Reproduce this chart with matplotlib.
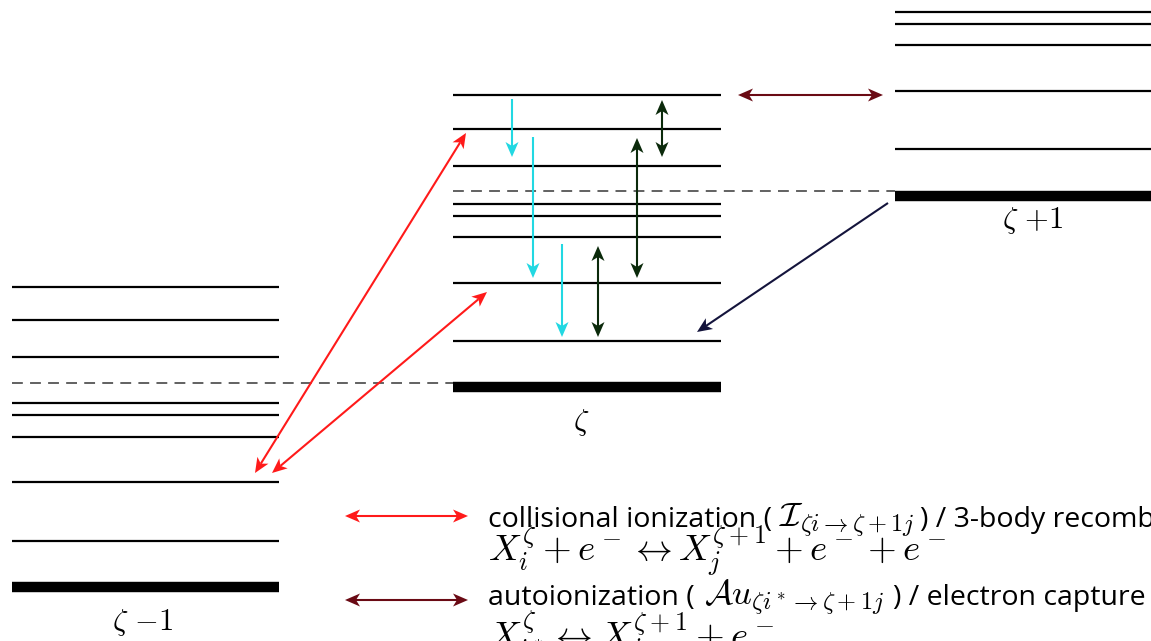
import numpy as np
import matplotlib.pyplot as plt

plt.rcParams['mathtext.fontset'] = 'cm'
plt.rcParams['font.family'] = ['Open Sans', 'DejaVu Sans']

# Energias de los niveles (coordenadas de la figura, y crece hacia abajo)
left_x = (12, 279)
left_levels = [287, 320, 357, 403, 415, 437, 482, 541]
left_ground = 587
left_limit = 383          # limite de ionizacion de zeta-1

mid_x = (453, 721)
mid_levels = [95, 129, 166, 204, 216, 237, 283, 341]
mid_ground = 387
mid_limit = 191           # limite de ionizacion de zeta

right_x = (895, 1160)
right_levels = [12, 24, 45, 91, 149]
right_ground = 195.5

# Transiciones: (x0, y0, x1, y1)
red_pairs = [(255, 473, 466, 133), (272, 473, 487, 292)]
cyan_down = [(512, 99, 157), (533, 137, 278), (562, 244, 337)]
green_pairs = [(662, 100, 157), (637, 138, 278), (598, 246, 337)]
auto_pair = (738, 95, 883, 95)
capture = (888, 203, 697, 332)

RED = '#ff1a1a'
CYAN = '#22d8e2'
GREEN = '#0b2a0b'
DARKRED = '#6a0a14'
NAVY = '#14143c'

fig = plt.figure(figsize=(11.51, 6.41), dpi=100)
ax = fig.add_axes([0, 0, 1, 1])
ax.set_xlim(0, 1151)
ax.set_ylim(641, 0)
ax.axis('off')

for (x0, x1), levels, ground in [(left_x, left_levels, left_ground),
                                 (mid_x, mid_levels, mid_ground),
                                 (right_x, right_levels, right_ground)]:
    ax.hlines(levels, x0, x1, color='black', lw=1.6)
    ax.hlines(ground, x0, x1, color='black', lw=7.5)

ax.hlines(left_limit, left_x[0], mid_x[0], color='#555555', lw=1.3,
          linestyles=(0, (6, 4)))
ax.hlines(mid_limit, mid_x[0], right_x[0], color='#555555', lw=1.3,
          linestyles=(0, (6, 4)))

ax.text(112, 622, r'$\zeta\ {-1}$', fontsize=22, ha='left', va='center')
ax.text(581, 422, r'$\zeta$', fontsize=22, ha='center', va='center')
ax.text(1002, 220, r'$\zeta\ {+1}$', fontsize=22, ha='left', va='center')


def head(tip, back, color, L=15, W=6.5, notch=4):
    # punta tipo "stealth": triangulo con la base hendida
    tip = np.asarray(tip, float)
    d = tip - np.asarray(back, float)
    d /= np.hypot(*d)
    n = np.array([-d[1], d[0]])
    base = tip - d * L
    pts = [tip, base + n * W, tip - d * (L - notch), base - n * W]
    ax.fill(*zip(*pts), color=color, lw=0)
    return tip - d * (L - notch)


def arrow(x0, y0, x1, y1, color, both=True):
    p0, p1 = (x0, y0), (x1, y1)
    end = head(p1, p0, color)
    start = head(p0, p1, color) if both else p0
    ax.plot([start[0], end[0]], [start[1], end[1]], color=color, lw=1.5,
            solid_capstyle='butt')


for x0, y0, x1, y1 in red_pairs:
    arrow(x0, y0, x1, y1, RED)
for x, y0, y1 in cyan_down:
    arrow(x, y0, x, y1, CYAN, both=False)
for x, y0, y1 in green_pairs:
    arrow(x, y0, x, y1, GREEN)
arrow(*auto_pair, DARKRED)
arrow(*capture, NAVY, both=False)

renderer = fig.canvas.get_renderer()


def text_row(x, y, parts):
    # coloca cada trozo a continuacion del anterior
    for s, size, gap in parts:
        t = ax.text(x, y, s, fontsize=size, va='baseline')
        bb = t.get_window_extent(renderer)
        x = ax.transData.inverted().transform((bb.x1, bb.y0))[0] + gap


# Leyenda
arrow(345, 516, 468, 516, RED)
text_row(488, 527, [('collisional ionization (', 20.5, 7),
                    (r'$\mathcal{I}_{\zeta i\rightarrow\zeta+1j}$', 25, 6),
                    (') / 3-body recombination', 20.5, 0)])
ax.text(488, 562, r'$X_i^\zeta+e^-\leftrightarrow X_j^{\zeta+1}+e^-+e^-$',
        fontsize=26.5, va='baseline')

arrow(345, 600, 468, 600, DARKRED)
text_row(488, 605, [('autoionization (', 20.5, 9),
                    (r'$\mathcal{A}u_{\zeta i^*\rightarrow\zeta+1j}$', 25, 9),
                    (') / electron capture', 20.5, 0)])
ax.text(488, 649, r'$X_{i^*}^\zeta\leftrightarrow X_j^{\zeta+1}+e^-$',
        fontsize=26.5, va='baseline')

fig.savefig('out.png', dpi=100)
